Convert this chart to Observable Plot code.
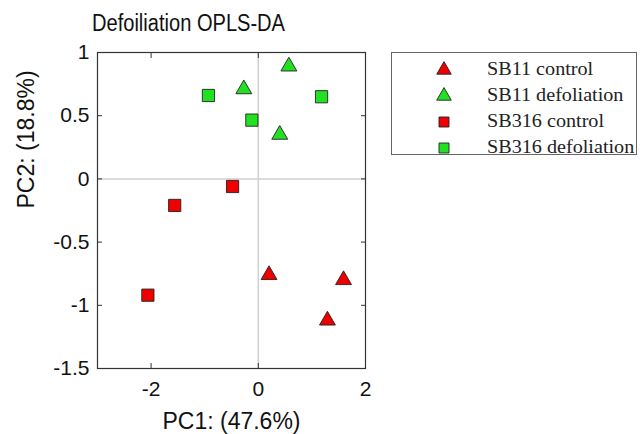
<!DOCTYPE html>
<html><head><meta charset="utf-8">
<script src="https://cdn.jsdelivr.net/npm/d3@7"></script>
<script src="https://cdn.jsdelivr.net/npm/@observablehq/plot@0.6"></script>
<style>
body{margin:0;background:#fff;}
#wrap{position:relative;width:644px;height:434px;}
#legend{position:absolute;left:391px;top:52px;width:246px;height:103px;border:1px solid #666;box-sizing:border-box;font-family:"Liberation Serif","Times New Roman",serif;font-size:18px;color:#222;}
.item{position:absolute;left:0;height:26px;white-space:nowrap;}
.item svg{position:absolute;left:42px;top:3px;}
.item span{position:absolute;left:95px;top:0;line-height:26px;display:inline-block;transform:scaleX(1.12);transform-origin:0 50%;}
</style></head><body><div id="wrap"><div id="legend"></div></div>
<script>
const groups = ["SB11 control", "SB11 defoliation", "SB316 control", "SB316 defoliation"];
const groupShape = ["triangle", "triangle", "square", "square"];
const groupColor = ["#ee0000", "#22e022", "#ee0000", "#22e022"];
const sampleGroup = [0, 0, 0, 1, 1, 1, 2, 2, 2, 3, 3, 3];
const pc1 = [0.20, 1.59, 1.29, 0.57, -0.27, 0.40, -2.06, -1.56, -0.48, -0.93, 1.18, -0.12];
const pc2 = [-0.76, -0.80, -1.12, 0.89, 0.71, 0.35, -0.92, -0.21, -0.06, 0.66, 0.65, 0.465];
const xTicks = [-2, 0, 2];
const yTicks = [-1.5, -1, -0.5, 0, 0.5, 1];
const title = "Defoiliation OPLS-DA";
const xLabel = "PC1: (47.6%)";
const yLabel = "PC2: (18.8%)";

const data = pc1.map((v, i) => ({x: v, y: pc2[i], g: groups[sampleGroup[i]], shape: groupShape[sampleGroup[i]]}));
const tri = data.filter(d => d.shape === "triangle");
const sq = data.filter(d => d.shape === "square");
const sans = "'Liberation Sans', Arial, sans-serif";

const chart = Plot.plot({
  width: 644, height: 434,
  marginLeft: 97, marginRight: 279, marginTop: 52, marginBottom: 66,
  style: {fontFamily: sans, fontSize: "21px", color: "#111", background: "#fff"},
  x: {domain: [-3, 2]},
  y: {domain: [-1.5, 1]},
  color: {domain: groups, range: groupColor},
  marks: [
    Plot.ruleX([0], {stroke: "#d0d0d0", strokeWidth: 1.5}),
    Plot.ruleY([0], {stroke: "#d0d0d0", strokeWidth: 1.5}),
    Plot.axisX(xTicks, {anchor: "bottom", tickSize: -5, tickPadding: 18, tickFormat: d => String(d), fontSize: 21, label: null, stroke: "#333"}),
    Plot.axisX(xTicks, {anchor: "top", tickSize: -5, tickFormat: () => "", label: null, stroke: "#333"}),
    Plot.axisY(yTicks, {anchor: "left", tickSize: -5, tickPadding: 13, tickFormat: d => String(d), fontSize: 21, label: null, stroke: "#333"}),
    Plot.axisY(yTicks, {anchor: "right", tickSize: -5, tickFormat: () => "", label: null, stroke: "#333"}),
    Plot.frame({stroke: "#333", strokeWidth: 1.2}),
    Plot.dot(sq, {x: "x", y: "y", symbol: "square", r: 6.9, fill: "g", stroke: "#222", strokeWidth: 0.9}),
    Plot.dot(tri, {x: "x", y: "y", symbol: "triangle", r: 5.9, fill: "g", stroke: "#222", strokeWidth: 0.9}),
    Plot.text([title], {text: d => d, frameAnchor: "top-left", textAnchor: "start", lineAnchor: "middle", dx: -5.5, dy: -28.5, fontSize: 23, fill: "#111"}),
    Plot.text([xLabel], {text: d => d, frameAnchor: "bottom", lineAnchor: "middle", dy: 53, fontSize: 23, fill: "#111"}),
    Plot.text([yLabel], {text: d => d, frameAnchor: "left", lineAnchor: "middle", dx: -71, dy: -2, rotate: -90, fontSize: 23, fill: "#111"})
  ]
});
d3.select(chart).selectAll("text").filter(function() { return this.textContent === title; })
  .attr("textLength", 193).attr("lengthAdjust", "spacingAndGlyphs");
document.getElementById("wrap").prepend(chart);

const legend = document.getElementById("legend");
groups.forEach((g, i) => {
  const item = document.createElement("div");
  item.className = "item";
  item.style.top = (3 + i * 26) + "px";
  const svg = d3.create("svg").attr("width", 20).attr("height", 20);
  const type = groupShape[i] === "triangle" ? d3.symbolTriangle : d3.symbolSquare;
  const size = groupShape[i] === "triangle" ? Math.PI * 5.4 * 5.4 : 100;
  svg.append("path").attr("transform", "translate(10,11)")
    .attr("d", d3.symbol(type, size)()).attr("fill", groupColor[i]).attr("stroke", "#222").attr("stroke-width", 0.9);
  item.appendChild(svg.node());
  const span = document.createElement("span");
  span.textContent = g;
  item.appendChild(span);
  legend.appendChild(item);
});
</script>
</body></html>
